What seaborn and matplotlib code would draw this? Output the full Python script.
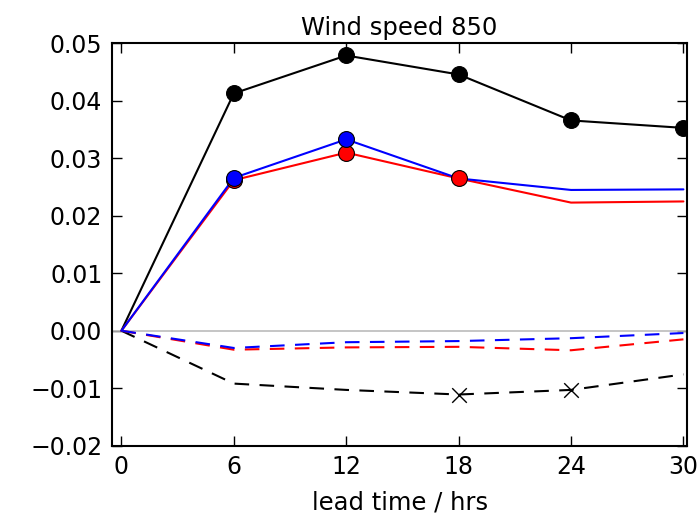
import matplotlib
matplotlib.use("Agg")
import matplotlib.pyplot as plt
import seaborn as sns
import numpy as np
import pandas as pd

lead_time = [0, 6, 12, 18, 24, 30]

# solid: positive contributions
black_solid = [0.0, 0.0413, 0.0479, 0.0446, 0.0366, 0.0353]
blue_solid = [0.0, 0.0266, 0.0333, 0.0265, 0.0245, 0.0246]
red_solid = [0.0, 0.0262, 0.0310, 0.0265, 0.0223, 0.0225]

# dashed: negative contributions
black_dashed = [0.0, -0.0092, -0.0103, -0.0111, -0.0103, -0.0076]
blue_dashed = [0.0, -0.0030, -0.0020, -0.0018, -0.0013, -0.0004]
red_dashed = [0.0, -0.0033, -0.0029, -0.0028, -0.0034, -0.0015]

# lead times flagged with a marker
black_solid_marked = [6, 12, 18, 24, 30]
blue_solid_marked = [6, 12]
red_solid_marked = [6, 12, 18]
black_dashed_marked = [18, 24]

xticks = [0, 6, 12, 18, 24, 30]
yticks = [-0.02, -0.01, 0.0, 0.01, 0.02, 0.03, 0.04, 0.05]
ytick_labels = ["\u22120.02", "\u22120.01", "0.00", "0.01", "0.02",
                "0.03", "0.04", "0.05"]

sns.set_style("ticks")
plt.rcParams["font.family"] = ["DejaVu Sans"]
plt.rcParams["text.color"] = "black"
plt.rcParams["axes.labelcolor"] = "black"
plt.rcParams["xtick.color"] = "black"
plt.rcParams["ytick.color"] = "black"
plt.rcParams["axes.edgecolor"] = "black"

fig = plt.figure(figsize=(6.98, 5.17), dpi=100)
ax = fig.add_axes([0.1605, 0.138, 0.824, 0.778])

ax.axhline(0, color="#bbbbbb", lw=1.2, zorder=1)

series = [
    (black_dashed, "black", "--", black_dashed_marked, "x"),
    (red_dashed, "red", "--", [], None),
    (blue_dashed, "blue", "--", [], None),
    (black_solid, "black", "-", black_solid_marked, "o"),
    (red_solid, "red", "-", red_solid_marked, "o"),
    (blue_solid, "blue", "-", blue_solid_marked, "o"),
]

for vals, col, ls, marked, mk in series:
    df = pd.DataFrame({"lead": lead_time, "val": vals})
    sns.lineplot(data=df, x="lead", y="val", color=col, linestyle=ls,
                 lw=1.5, ax=ax, zorder=2)
    if ls == "--":
        ax.lines[-1].set_dashes([7, 5])
    if marked:
        sub = df[df["lead"].isin(marked)]
        if mk == "o":
            sns.scatterplot(data=sub, x="lead", y="val", color=col,
                            marker="o", s=130, edgecolor="black",
                            linewidth=0.8, ax=ax, zorder=3)
        else:
            sns.scatterplot(data=sub, x="lead", y="val", color=col,
                            marker="x", s=110, linewidth=1.0, ax=ax, zorder=3)

ax.set_xlim(-0.5, 30.2)
ax.set_ylim(-0.02, 0.05)
ax.set_xticks(xticks)
ax.set_yticks(yticks)
ax.set_yticklabels(ytick_labels)
ax.tick_params(direction="in", length=7, width=1, labelsize=17,
               top=True, right=True, pad=7)
for s in ax.spines.values():
    s.set_linewidth(1.5)
    s.set_visible(True)

ax.set_title("Wind speed 850", fontsize=17.5, pad=6)
ax.set_xlabel("lead time / hrs", fontsize=17.5, labelpad=8)
ax.set_ylabel("")

fig.savefig("out.png", dpi=100)
